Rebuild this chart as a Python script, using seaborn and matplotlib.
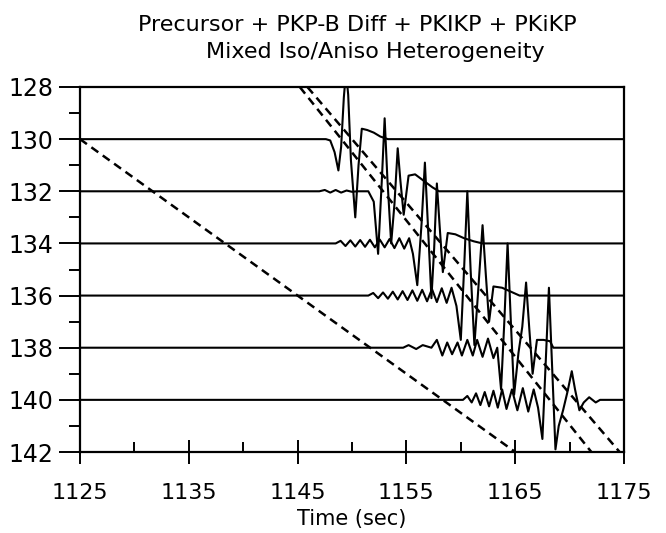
import numpy as np
import pandas as pd
import seaborn as sns
import matplotlib
matplotlib.use("Agg")
import matplotlib.pyplot as plt
from matplotlib.ticker import MultipleLocator

# ---------------- data ----------------
title_lines = ["Precursor + PKP-B Diff + PKIKP + PKiKP", "Mixed Iso/Aniso Heterogeneity"]
x_label = "Time (sec)"
x_ticks = [1125, 1135, 1145, 1155, 1165, 1175]
y_ticks = [128, 130, 132, 134, 136, 138, 140, 142]

t130 = [1125, 1147.6, 1148.0, 1148.4, 1148.75, 1149.0, 1149.25, 1149.45, 1149.65, 1149.9, 1150.3,
        1150.6, 1150.9, 1151.4, 1152.0, 1152.6, 1153.3, 1175]
v130 = [130, 130, 130.05, 130.5, 131.2, 130.3, 128.4, 127.4, 128.3, 130.8, 133.0,
        131.0, 129.6, 129.65, 129.75, 129.9, 130.0, 130]

t132 = [1125, 1147.0, 1147.5, 1148.0, 1148.5, 1149.0, 1149.5, 1150.0, 1150.5, 1151.5, 1152.0,
        1152.4, 1152.75, 1153.0, 1153.25, 1153.6, 1153.9, 1154.2, 1154.45, 1154.75, 1155.2,
        1155.8, 1156.6, 1157.4, 1158.0, 1175]
v132 = [132, 132, 131.95, 132.05, 131.95, 132.05, 131.97, 132.02, 132.0, 132.0, 132.4,
        134.4, 131.5, 129.2, 131.5, 134.0, 132.5, 130.35, 131.6, 132.9, 131.4,
        131.35, 131.6, 131.85, 132.0, 132]

t134 = [1125, 1148.5, 1148.95, 1149.4, 1149.85, 1150.3, 1150.75, 1151.2, 1151.65, 1152.1, 1152.55,
        1153.0, 1153.45, 1153.9, 1154.35, 1154.8, 1155.25, 1155.6, 1156.0, 1156.4, 1156.7,
        1157.0, 1157.3, 1157.55, 1157.8, 1158.05, 1158.35, 1158.8, 1159.5, 1160.3, 1161.2,
        1162.0, 1175]
v134 = [134, 134, 133.9, 134.1, 133.88, 134.12, 133.87, 134.13, 133.86, 134.15, 133.85,
        134.15, 133.83, 134.18, 133.8, 134.2, 133.8, 134.4, 135.6, 133.2, 130.9,
        133.5, 136.1, 134.2, 131.7, 133.3, 135.1, 133.6, 133.65, 133.8, 133.92,
        134.0, 134]

t136 = [1125, 1151.5, 1151.95, 1152.4, 1152.85, 1153.3, 1153.75, 1154.2, 1154.65, 1155.1, 1155.55,
        1156.0, 1156.45, 1156.9, 1157.35, 1157.8, 1158.25, 1158.7, 1159.15, 1159.6, 1160.0,
        1160.3, 1160.6, 1160.9, 1161.25, 1161.6, 1162.0, 1162.3, 1162.6, 1163.0, 1163.8,
        1164.6, 1165.4, 1175]
v136 = [136, 136, 135.9, 136.1, 135.88, 136.12, 135.85, 136.15, 135.83, 136.17, 135.8,
        136.2, 135.78, 136.22, 135.75, 136.25, 135.72, 136.28, 135.7, 136.4, 137.7,
        135.0, 132.0, 135.0, 137.9, 135.8, 133.3, 135.2, 137.0, 135.65, 135.7,
        135.85, 136.0, 136]

t138 = [1125, 1154.7, 1155.2, 1155.9, 1156.5, 1157.3, 1157.8, 1158.3, 1158.75, 1159.2, 1159.7,
        1160.1, 1160.6, 1161.1, 1161.5, 1162.0, 1162.5, 1163.0, 1163.35, 1163.7, 1164.0,
        1164.3, 1164.6, 1164.9, 1165.3, 1165.65, 1166.0, 1166.3, 1166.6, 1167.0, 1167.6,
        1168.2, 1168.5, 1175]
v138 = [138, 138, 137.9, 138.05, 137.9, 138.0, 137.7, 138.3, 137.8, 138.25, 137.8,
        138.3, 137.7, 138.3, 137.7, 138.35, 137.65, 138.4, 138.0, 139.6, 137.0,
        134.0, 137.0, 139.8, 138.2, 137.2, 135.5, 137.3, 139.0, 137.7, 137.7,
        137.75, 138.0, 138]

t140 = [1125, 1160.2, 1160.6, 1161.0, 1161.4, 1161.8, 1162.2, 1162.6, 1163.0, 1163.4, 1163.8,
        1164.2, 1164.7, 1165.2, 1165.7, 1166.2, 1166.7, 1167.1, 1167.5, 1167.8, 1168.1,
        1168.4, 1168.7, 1169.0, 1169.4, 1169.8, 1170.2, 1170.5, 1170.9, 1171.3, 1171.8,
        1172.4, 1172.8, 1175]
v140 = [140, 140, 139.85, 140.1, 139.75, 140.2, 139.7, 140.25, 139.65, 140.3, 139.6,
        140.35, 139.6, 140.4, 139.55, 140.45, 139.6, 140.3, 141.5, 138.6, 135.7,
        138.8, 141.9, 141.0, 140.4, 139.7, 138.9, 139.6, 140.4, 140.1, 139.9,
        140.1, 140.0, 140]

dashC_t = [1125, 1165]
dashC_v = [130, 142]
dashA_t = [1145.2, 1172.0]
dashA_v = [128, 142]
dashB_t = [1145.9, 1174.6]
dashB_v = [128, 142]

# ---------------- build long table ----------------
traces = {"130": (t130, v130), "132": (t132, v132), "134": (t134, v134),
          "136": (t136, v136), "138": (t138, v138), "140": (t140, v140)}
rows = []
for name, (tt, vv) in traces.items():
    for a, b in zip(tt, vv):
        rows.append({"trace": name, "time": a, "value": b})
df = pd.DataFrame(rows)

dash = {"C": (dashC_t, dashC_v), "A": (dashA_t, dashA_v), "B": (dashB_t, dashB_v)}
drows = []
for name, (tt, vv) in dash.items():
    for a, b in zip(tt, vv):
        drows.append({"curve": name, "time": a, "value": b})
ddf = pd.DataFrame(drows)

# ---------------- plot ----------------
sns.set_theme(style="ticks")
plt.rcParams["font.family"] = ["DejaVu Sans"]
plt.rcParams["text.color"] = "black"
plt.rcParams["axes.labelcolor"] = "black"
plt.rcParams["xtick.color"] = "black"
plt.rcParams["ytick.color"] = "black"
plt.rcParams["lines.solid_joinstyle"] = "round"

fig = plt.figure(figsize=(6.66, 5.33), dpi=100)
ax = fig.add_axes([80 / 666, 1 - 452 / 533, 544 / 666, 365 / 533])

sns.lineplot(data=df, x="time", y="value", units="trace", estimator=None, sort=False,
             color="black", linewidth=1.5, ax=ax)
sns.lineplot(data=ddf, x="time", y="value", units="curve", estimator=None, sort=False,
             color="black", linewidth=1.8, ax=ax, dashes=False)
for line in ax.lines[:len(traces)]:
    line.set_solid_joinstyle("round")
for line in ax.lines[-len(dash):]:
    line.set_linestyle((0, (3.4, 2.2)))

ax.set_xlim(1125, 1175)
ax.set_ylim(142, 128)
ax.set_xticks(x_ticks)
ax.set_yticks(y_ticks)
ax.xaxis.set_minor_locator(MultipleLocator(5))
ax.yaxis.set_minor_locator(MultipleLocator(1))
ax.tick_params(axis="x", which="major", direction="inout", length=17, width=1.4, labelsize=16, pad=14)
ax.tick_params(axis="x", which="minor", direction="in", length=7, width=1.4)
ax.tick_params(axis="y", which="major", direction="out", length=15, width=1.4, labelsize=17, pad=4)
ax.tick_params(axis="y", which="minor", direction="out", length=8, width=1.4)
for s in ax.spines.values():
    s.set_linewidth(1.6)
    s.set_color("black")
ax.set_xlabel(x_label, fontsize=15, labelpad=4)
ax.set_ylabel("")

fig.text(0.536, 1 - 25 / 533, title_lines[0], ha="center", va="center", fontsize=16)
fig.text(0.563, 1 - 52 / 533, title_lines[1], ha="center", va="center", fontsize=16)

fig.savefig("out.png", dpi=100)
